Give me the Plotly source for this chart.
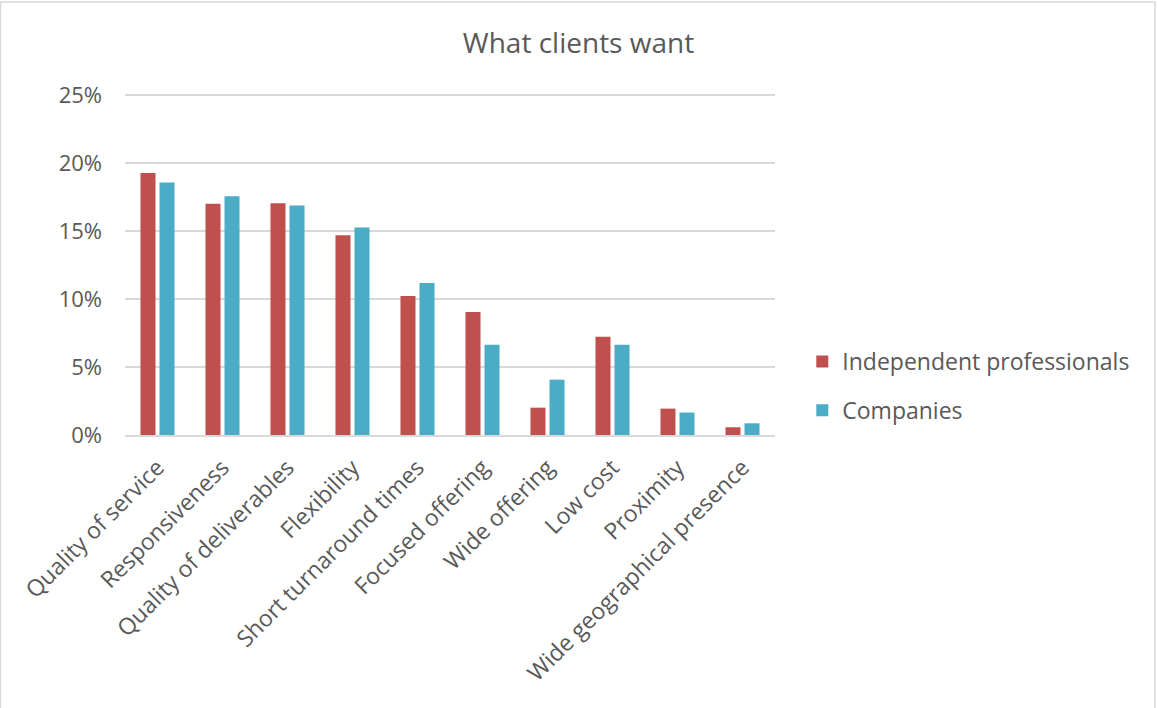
import plotly.graph_objects as go

categories = [
    "Quality of service", "Responsiveness", "Quality of deliverables", "Flexibility",
    "Short turnaround times", "Focused offering", "Wide offering", "Low cost",
    "Proximity", "Wide geographical presence",
]
independent = [0.1926, 0.1701, 0.1704, 0.1468, 0.1022, 0.0904, 0.0201, 0.0723, 0.0194, 0.0057]
companies = [0.1856, 0.1755, 0.1687, 0.1525, 0.1118, 0.0664, 0.0407, 0.0664, 0.0165, 0.0086]
y_ticks = [0, 0.05, 0.10, 0.15, 0.20, 0.25]

FONT = "Open Sans"
TEXT = "#595959"
PLOT_H = 343  # plot area height in px; 0..25% spans 340 px

fig = go.Figure()
fig.add_trace(go.Bar(name="Independent professionals", x=categories, y=independent,
                     legendgroup="a",
                     marker=dict(color="#C0504D", line=dict(width=0))))
fig.add_trace(go.Bar(name="Companies", x=categories, y=companies,
                     legendgroup="b",
                     marker=dict(color="#4BACC6", line=dict(width=0))))

fig.update_layout(
    width=1157, height=708,
    margin=dict(l=125, r=382, t=92, b=273),
    paper_bgcolor="white", plot_bgcolor="white",
    barmode="group", bargap=0.415, bargroupgap=0.21,
    title=dict(text="What clients want", x=0.5, xref="container", xanchor="center",
               y=1 - 43 / 708, yref="container", yanchor="middle",
               font=dict(family=FONT, size=28, color=TEXT)),
    font=dict(family=FONT, color=TEXT),
    legend=dict(x=1.042, y=49 / PLOT_H, xanchor="left", yanchor="middle",
                font=dict(family=FONT, size=23, color=TEXT),
                itemsizing="constant", tracegroupgap=16, traceorder="grouped"),
    xaxis=dict(tickangle=-45, tickfont=dict(family=FONT, size=23, color=TEXT),
               showline=True, linecolor="#D9D9D9", linewidth=2, ticks="",
               showgrid=False, ticklabelstandoff=8),
    yaxis=dict(range=[0, PLOT_H / 1360], tickvals=y_ticks, tickformat=".0%",
               tickfont=dict(family=FONT, size=22, color=TEXT),
               showgrid=True, gridcolor="#D9D9D9", gridwidth=2,
               zeroline=False, showline=False, ticks="", ticklabelstandoff=22),
    shapes=[dict(type="rect", xref="paper", yref="paper",
                 x0=-124.5 / 650, x1=1030 / 650, y0=-300 / PLOT_H, y1=433 / PLOT_H,
                 line=dict(color="#D9D9D9", width=1.5), fillcolor="rgba(0,0,0,0)",
                 layer="below")],
)

fig.write_html("out.html")
